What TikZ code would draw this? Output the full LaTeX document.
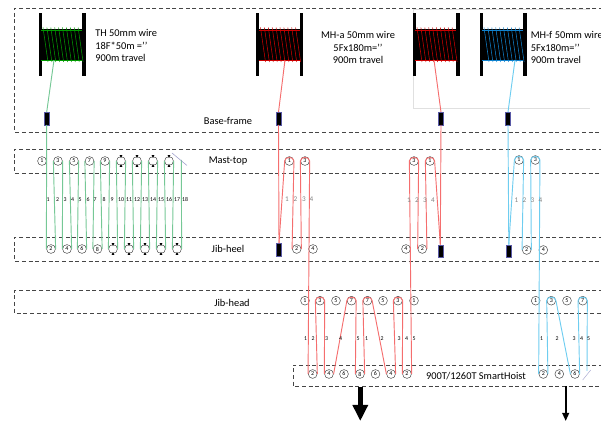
\documentclass[tikz,border=0pt]{standalone}
\usepackage{fontspec}
\setmainfont{Carlito}
\usepackage{xcolor}
\usetikzlibrary{arrows.meta,calc}
\definecolor{thgreen}{RGB}{118,200,150}
\definecolor{mhred}{RGB}{245,110,110}
\definecolor{mhblue}{RGB}{110,205,240}
\definecolor{bandgray}{RGB}{70,70,70}
\definecolor{numgray}{RGB}{130,130,130}

\begin{document}
\begin{tikzpicture}[
  x=0.75pt,y=-0.75pt,
  band/.style ={draw=bandgray,dash pattern=on 3pt off 2pt,line width=0.6pt},
  sheave/.style={circle,draw=black!75,fill=white,line width=0.35pt,minimum size=6.6pt,inner sep=0pt,font=\fontsize{4.5}{5}\selectfont},
  clamp/.style={rectangle,draw=blue!30!gray,fill=black,line width=0.3pt,minimum width=3.6pt,minimum height=9.4pt,inner sep=0pt},
  flange/.style={fill=black},
  wire/.style={line width=0.7pt},
  tag/.style={font=\fontsize{7.8}{9}\selectfont,inner sep=0pt},
  fall/.style={font=\fontsize{4.4}{5}\selectfont,inner sep=0pt},
  fallg/.style={fall,text=numgray,font=\fontsize{5.4}{6}\selectfont},
  loopdn/.style={out=90,in=90,looseness=1.3},
]
\useasboundingbox (0,0) rectangle (601,423);

% bands
\draw[band] (603,8)--(14.5,8)--(14.5,132)--(603,132);
\draw[band] (603,149)--(14.5,149)--(14.5,173)--(603,173);
\draw[band] (603,237)--(14.5,237)--(14.5,261)--(603,261);
\draw[band] (603,290.5)--(14.5,290.5)--(14.5,313)--(603,313);
\draw[band] (603,365)--(293,365)--(293,386)--(603,386);
\draw[black!12,line width=0.5pt] (590,9)--(413.5,9)--(413.5,108)--(590,108);

\node[tag] (baselbl) at (228,121) {Base-frame};
\node[tag] (mastlbl) at (228,161) {Mast-top};
\node[tag] (heellbl) at (228,249) {Jib-heel};
\node[tag] (headlbl) at (232,303) {Jib-head};
\node[tag] (hoistlbl) at (476,376) {900T/1260T SmartHoist};

% drums
\foreach \dx/\wc/\core in {40/thgreen/green!60!black,257.5/mhred/red!80!black,414/mhred/red!80!black,481/mhblue/cyan!65!blue} {
  \fill[flange] (\dx-1.5,13) rectangle (\dx+1.5,76);
  \fill[flange] (\dx+42,13) rectangle (\dx+45.5,76);
  \fill[black] (\dx,29.5) rectangle (\dx+43,60);
  \draw[\core,line width=0.4pt] (\dx+1,30)--(\dx+42,30) (\dx+1,60)--(\dx+42,60);
  \foreach \i in {0,...,9}
    \draw[\core,line width=0.4pt] (\dx+3+\i*3.9,27.5)--(\dx+8+\i*3.9,62);
}

\node[align=left,anchor=north west,font=\fontsize{7.8}{9.3}\selectfont,inner sep=0pt] (thtxt) at (95,29.5) {TH 50mm wire\\18F*50m =’’\\900m travel};
\node[align=center,font=\fontsize{7.8}{9.3}\selectfont,inner sep=0pt] (mhatxt) at (358,47.5) {MH-a 50mm wire\\5Fx180m=’’\\900m travel};
\node[align=left,anchor=north west,font=\fontsize{7.8}{9.3}\selectfont,inner sep=0pt] (mhftxt) at (530.5,31.5) {MH-f 50mm wire\\5Fx180m=’’\\900m travel};

% base-frame clamps
\node[clamp] (ba) at (46.7,118.5) {};
\node[clamp] (bb) at (278.5,118.5) {};
\node[clamp] (bc) at (441,118.5) {};
\node[clamp] (bd) at (508,118.5) {};
\coordinate (da) at (54,60);
\coordinate (db) at (285,60);
\coordinate (dc) at (434,60);
\coordinate (dd) at (515,60);
\draw[wire,thgreen] (da)--(ba.north);
\draw[wire,mhred] (db)--(bb.north);
\draw[wire,mhred] (dc)--(bc.north);
\draw[wire,mhblue] (dd)--(bd.north);

% TH mast-top and jib-heel sheaves
\foreach \n/\x/\t in {1/42/1,3/58/3,5/74/5,7/89.5/7,9/105/9,11/121/,13/137/,15/153/,17/169/}
  \node[sheave] (ta\n) at (\x,161) {\t};
\foreach \n/\x/\t in {2/51/2,4/67/4,6/82/6,8/97.5/8,10/113/,12/129/,14/145/,16/161/,18/177/}
  \node[sheave] (tb\n) at (\x,249) {\t};
\foreach \s in {ta11,ta13,ta15,ta17,tb10,tb12,tb14,tb16,tb18} {
  \fill[black] (\s.north) ++(0,1.8) -- ++(1.3,-3) -- ++(-2.6,0) -- cycle;
  \fill[black] (\s.south) ++(0,-1.8) -- ++(1.3,3) -- ++(-2.6,0) -- cycle;
}

% TH reeving
\draw[wire,thgreen] (ba.south) -- (tb2.west);
\foreach \a/\b/\c in {2/3/4,4/5/6,6/7/8,8/9/10,10/11/12,12/13/14,14/15/16,16/17/18}
  \draw[wire,thgreen] (tb\a.east) -- (ta\b.west) (ta\b.east) -- (tb\c.west);
\coordinate (tend) at (181.3,160);
\draw[wire,thgreen] (tb18.east) -- (tend);
\coordinate (tiea) at (172,153);
\coordinate (tieb) at (187,165.5);
\draw[blue!30!gray!60,line width=0.4pt] (tiea)--(tieb);
\foreach \i/\x in {1/48,2/57.5,3/65,4/72.5,5/80,6/88,7/95,8/104,9/112,10/121,11/129,12/137,13/145,14/153,15/161,16/169,17/177,18/185}
  \node[fall] (tn\i) at (\x,200) {\i};

% MH-a mast-top and jib-heel
\node[sheave] (ma1) at (289.3,161) {1};
\node[sheave] (ma3) at (305,161) {3};
\node[sheave] (mb2) at (296.7,249) {2};
\node[sheave] (mb4) at (313,249) {4};
\node[clamp] (ca) at (279,249.5) {};
% MH-b mast-top and jib-heel
\node[sheave] (na3) at (414,161) {3};
\node[sheave] (na1) at (430,161) {1};
\node[sheave] (nb4) at (406,249) {4};
\node[sheave] (nb2) at (422.3,249) {2};
\node[clamp] (cb) at (440.3,251) {};
% MH-f mast-top and jib-heel
\node[sheave] (fa1) at (519,160) {1};
\node[sheave] (fa3) at (535.3,160) {3};
\node[sheave] (fb2) at (526.7,250) {2};
\node[sheave] (fb4) at (543.3,250) {4};
\node[clamp] (cc) at (508.8,251) {};

% jib-head and hoist sheaves
\foreach \n/\x/\t in {1/305/1,2/320/3,3/336/5,4/351.5/7,5/367.5/7,6/383/5,7/398/3,8/414/1,9/535.7/1,10/551.3/3,11/567/5,12/582.7/7}
  \node[sheave] (hd\n) at (\x,300.7) {\t};
\foreach \n/\x/\t in {1/312.7/2,2/329/4,3/344/6,4/360/8,5/375.5/6,6/391/4,7/407/2,8/543.3/2,9/559.3/4,10/575/6}
  \node[sheave] (ho\n) at (\x,374) {\t};

% MH-a reeving
\draw[wire,mhred] (bb.south) -- (ca.north);
\draw[wire,mhred] (ca.north) -- (ma1.west) to[loopdn] (ma1.east) -- (mb2.west) (mb2.east) -- (ma3.west) to[loopdn] (ma3.east) -- (ho1.west);
\draw[wire,mhred] (ho1.east) -- (hd2.west) to[loopdn] (hd2.east) -- (ho2.west) (ho2.east) -- (hd4.west) to[loopdn] (hd4.east) -- (ho4.west) (ho4.east) -- (hd5.west) to[loopdn] (hd5.east) -- (ho6.west) (ho6.east) -- (hd7.west) to[loopdn] (hd7.east) -- (ho7.west) (ho7.east) -- (na3.west);
% MH-b reeving
\draw[wire,mhred] (bc.south) -- (cb.north);
\draw[wire,mhred] (cb.north) -- (na1.east) to[loopdn] (na1.west) -- (nb2.east) (nb2.west) -- (na3.east) to[loopdn] (na3.west);
% MH-f reeving
\draw[wire,mhblue] (bd.south) -- (cc.north);
\draw[wire,mhblue] (cc.north) -- (fa1.west) to[loopdn] (fa1.east) -- (fb2.west) (fb2.east) -- (fa3.west) to[loopdn] (fa3.east) -- (ho8.west) (ho8.east) -- (hd10.west) to[loopdn] (hd10.east) -- (ho10.west) (ho10.east) -- (hd12.west) to[loopdn] (hd12.east) -- (587,371);
\coordinate (tiec) at (582.7,380);
\coordinate (tied) at (590.7,370);
\draw[blue!30!gray!50,line width=0.4pt] (tiec)--(tied);

% fall numbers
\foreach \i/\x in {1/287,2/295.5,3/304,4/311.5}
  \node[fallg] (an\i) at (\x,199) {\i};
\foreach \i/\x in {1/409,2/417,3/425,4/433}
  \node[fallg] (bn\i) at (\x,200) {\i};
\foreach \i/\x in {1/516.5,2/524.5,3/532.5,4/540.5}
  \node[fallg] (fn\i) at (\x,200) {\i};
\foreach \n/\x/\t in {1/305.5/1,2/313/2,3/326.5/3,4/340.5/4,5/358/5,6/366.5/1,7/382/2,8/399/3,9/406.5/4,10/414/5,11/541.7/1,12/557/2,13/574/3,14/581.5/4,15/588.5/5}
  \node[fall] (hn\n) at (\x,339) {\t};

% load arrows
\coordinate (lda) at (360.3,387);
\coordinate (ldb) at (360.3,421);
\coordinate (lfa) at (565.7,386);
\coordinate (lfb) at (565.7,421);
\draw[-{Triangle[length=12pt,width=11pt]},line width=3.4pt] (lda)--(ldb);
\draw[-{Triangle[length=6pt,width=5pt]},line width=1.3pt] (lfa)--(lfb);
\end{tikzpicture}
\end{document}
